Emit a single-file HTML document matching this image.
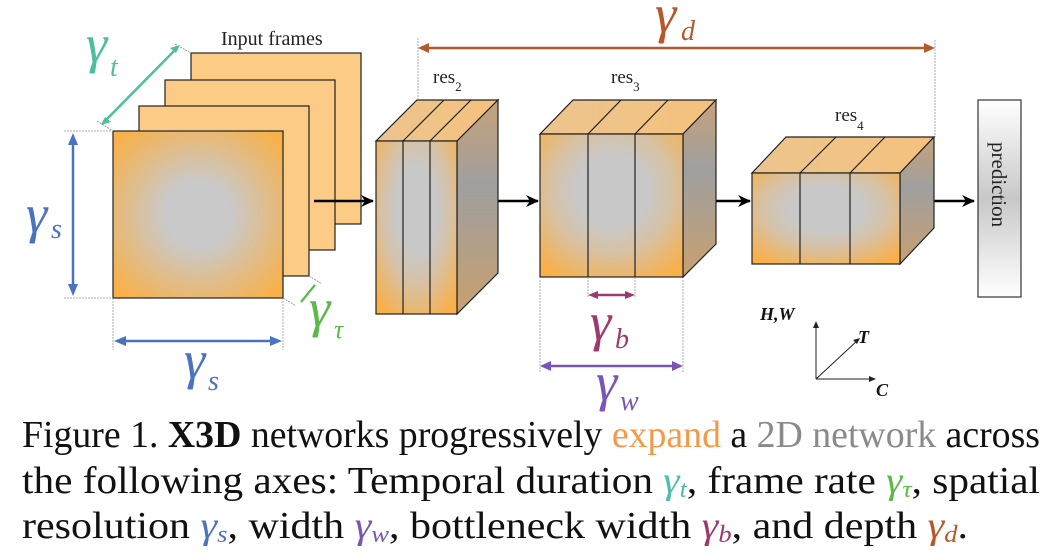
<!DOCTYPE html>
<html><head><meta charset="utf-8"><style>
html,body{margin:0;padding:0;background:#fff;width:1063px;height:560px;overflow:hidden}
svg{display:block}
text{font-family:"Liberation Serif",serif}
</style></head><body>
<svg width="1063" height="560" viewBox="0 0 1063 560" xmlns="http://www.w3.org/2000/svg">
<defs>
<radialGradient id="rg" cx="50%" cy="50%" r="65%">
<stop offset="0.3" stop-color="#c9c9c9"/><stop offset="1" stop-color="#f8b048"/></radialGradient>
<radialGradient id="fv" cx="50%" cy="40%" r="70%" fx="50%" fy="40%">
<stop offset="0.35" stop-color="#c8c8c8"/><stop offset="0.6" stop-color="#d6c2a6"/><stop offset="1" stop-color="#f8b04a"/></radialGradient>
<linearGradient id="sv" x1="0" y1="0" x2="0" y2="1">
<stop offset="0" stop-color="#c6a27a"/><stop offset="0.4" stop-color="#9f9f9f"/><stop offset="1" stop-color="#c8a070"/></linearGradient>
<linearGradient id="tp" x1="0" y1="0" x2="1" y2="0">
<stop offset="0" stop-color="#ecc48f"/><stop offset="1" stop-color="#f5c27c"/></linearGradient>
<linearGradient id="pr" x1="0" y1="0" x2="0" y2="1">
<stop offset="0" stop-color="#fff"/><stop offset="0.5" stop-color="#c8c8c8"/><stop offset="1" stop-color="#fff"/></linearGradient>
<marker id="ab" markerWidth="14" markerHeight="14" refX="12" refY="7" orient="auto" markerUnits="userSpaceOnUse"><path d="M0,1 L13,7 L0,13 L4,7z" fill="#000"/></marker>
</defs>
<g stroke="#222" stroke-width="1.2" fill="#fccb85">
<rect x="191" y="53" width="170" height="171"/>
<rect x="165" y="80" width="170" height="170"/>
<rect x="139" y="106" width="170" height="170"/>
<rect x="113" y="131" width="170" height="167" fill="url(#rg)"/>
</g>
<text x="221" y="45" font-size="20" fill="#222">Input frames</text>
<g stroke="#888" stroke-width="0.8" stroke-dasharray="2,1"><line x1="97" y1="121" x2="113" y2="131"/><line x1="175" y1="44" x2="191" y2="53"/></g>
<line x1="104" y1="122" x2="177" y2="48" stroke="#4dbf9e" stroke-width="2.5"/>
<path d="M101,125 l10,-3 l-6,-5z M180,45 l-10,3 l6,5z" fill="#4dbf9e"/>
<text x="86" y="62" font-size="54" font-style="italic" fill="#4dbf9e">γ</text><text x="110" y="76" font-size="28" font-style="italic" fill="#4dbf9e">t</text>
<g stroke="#999" stroke-width="0.8" stroke-dasharray="2,1"><line x1="64" y1="131" x2="113" y2="131"/><line x1="64" y1="298" x2="113" y2="298"/><line x1="113" y1="298" x2="113" y2="350"/><line x1="283" y1="298" x2="283" y2="350"/></g>
<line x1="73" y1="138" x2="73" y2="291" stroke="#4a72c0" stroke-width="2.5"/>
<path d="M73,133 l-5,12 h10z M73,296 l-5,-12 h10z" fill="#4a72c0"/>
<text x="26" y="232" font-size="54" font-style="italic" fill="#4a72c0">γ</text><text x="51" y="238" font-size="28" font-style="italic" fill="#4a72c0">s</text>
<line x1="119" y1="341" x2="277" y2="341" stroke="#4a72c0" stroke-width="2.5"/>
<path d="M114,341 l12,-5 v10z M282,341 l-12,-5 v10z" fill="#4a72c0"/>
<text x="184" y="378" font-size="54" font-style="italic" fill="#4a72c0">γ</text><text x="208" y="390" font-size="28" font-style="italic" fill="#4a72c0">s</text>
<g stroke="#888" stroke-width="0.8" stroke-dasharray="2,1"><line x1="309" y1="276" x2="322" y2="284"/><line x1="283" y1="298" x2="296" y2="306"/></g>
<line x1="301" y1="302" x2="315" y2="285" stroke="#5cb84a" stroke-width="2.2"/>
<text x="309" y="326" font-size="54" font-style="italic" fill="#5cb84a">γ</text><text x="334" y="338" font-size="26" font-style="italic" fill="#5cb84a">τ</text>
<g stroke="#000" stroke-width="2.5" marker-end="url(#ab)"><line x1="314" y1="201" x2="373" y2="201"/><line x1="498" y1="201" x2="538" y2="201"/><line x1="716" y1="201" x2="750" y2="201"/><line x1="934" y1="201" x2="974" y2="201"/></g>
<g stroke="#222" stroke-width="1.2">
<path d="M376,141 L417,100 L498,100 L457,141z" fill="url(#tp)"/>
<path d="M457,141 L498,100 L498,273 L457,314z" fill="url(#sv)"/>
<rect x="376" y="141" width="81" height="173" fill="url(#fv)"/>
<line x1="403" y1="141" x2="403" y2="314"/><line x1="430" y1="141" x2="430" y2="314"/>
<line x1="403" y1="141" x2="444" y2="100"/><line x1="430" y1="141" x2="471" y2="100"/>
</g>
<text x="433" y="83" font-size="19" fill="#222">res<tspan font-size="13" dy="8">2</tspan></text>
<g stroke="#222" stroke-width="1.2">
<path d="M540,134 L573,100 L716,100 L683,134z" fill="url(#tp)"/>
<path d="M683,134 L716,100 L716,244 L683,277z" fill="url(#sv)"/>
<rect x="540" y="134" width="143" height="143" fill="url(#fv)"/>
<line x1="588" y1="134" x2="588" y2="277"/><line x1="635" y1="134" x2="635" y2="277"/>
<line x1="588" y1="134" x2="621" y2="100"/><line x1="635" y1="134" x2="668" y2="100"/>
</g>
<text x="611" y="83" font-size="19" fill="#222">res<tspan font-size="13" dy="8">3</tspan></text>
<g stroke="#999" stroke-width="0.8" stroke-dasharray="2,1"><line x1="540" y1="280" x2="540" y2="373"/><line x1="683" y1="280" x2="683" y2="373"/><line x1="588" y1="277" x2="588" y2="298"/><line x1="635" y1="277" x2="635" y2="298"/></g>
<line x1="593" y1="295" x2="630" y2="295" stroke="#9c3a6e" stroke-width="2.5"/>
<path d="M588,295 l10,-4 v8z M635,295 l-10,-4 v8z" fill="#9c3a6e"/>
<text x="590" y="340" font-size="54" font-style="italic" fill="#9c3a6e">γ</text><text x="615" y="348" font-size="28" font-style="italic" fill="#9c3a6e">b</text>
<line x1="546" y1="366" x2="677" y2="366" stroke="#7a55b5" stroke-width="2.5"/>
<path d="M540,366 l11,-5 v10z M683,366 l-11,-5 v10z" fill="#7a55b5"/>
<text x="596" y="400" font-size="54" font-style="italic" fill="#7a55b5">γ</text><text x="620" y="410" font-size="28" font-style="italic" fill="#7a55b5">w</text>
<g stroke="#222" stroke-width="1.2">
<path d="M752,173 L786,137 L934,137 L900,173z" fill="url(#tp)"/>
<path d="M900,173 L934,137 L934,228 L900,264z" fill="url(#sv)"/>
<rect x="752" y="173" width="148" height="91" fill="url(#fv)"/>
<line x1="800" y1="173" x2="800" y2="264"/><line x1="850" y1="173" x2="850" y2="264"/>
<line x1="800" y1="173" x2="836" y2="137"/><line x1="850" y1="173" x2="885" y2="137"/>
</g>
<text x="835" y="121" font-size="19" fill="#222">res<tspan font-size="13" dy="9">4</tspan></text>
<g stroke="#999" stroke-width="0.8" stroke-dasharray="2,1"><line x1="418" y1="38" x2="418" y2="100"/><line x1="935" y1="40" x2="935" y2="137"/></g>
<line x1="424" y1="48" x2="929" y2="48" stroke="#b5582a" stroke-width="2.5"/>
<path d="M418,48 l11,-5 v10z M935,48 l-11,-5 v10z" fill="#b5582a"/>
<text x="655" y="32" font-size="54" font-style="italic" fill="#b5582a">γ</text><text x="681" y="40" font-size="28" font-style="italic" fill="#b5582a">d</text>
<rect x="978" y="100" width="43" height="197" fill="url(#pr)" stroke="#333" stroke-width="1.2"/>
<text transform="translate(992,142) rotate(90)" font-size="21" fill="#222">prediction</text>
<g stroke="#222" stroke-width="1"><line x1="816" y1="379" x2="816" y2="324"/><line x1="816" y1="379" x2="858" y2="340"/><line x1="816" y1="379" x2="873" y2="379"/></g>
<path d="M816,321 l-3,7 h6z M860,338 l-7,2 l4,4z M876,379 l-7,-3 v6z" fill="#222"/>
<text x="760" y="320" font-size="18" font-style="italic" font-weight="bold" fill="#111">H,W</text>
<text x="858" y="343" font-size="18" font-style="italic" font-weight="bold" fill="#111">T</text>
<text x="876" y="396" font-size="18" font-style="italic" font-weight="bold" fill="#111">C</text>
<g font-size="38" fill="#111">
<text x="22" y="447" textLength="1018" lengthAdjust="spacingAndGlyphs">Figure 1. <tspan font-weight="bold">X3D</tspan> networks progressively <tspan fill="#f39a4a">expand</tspan> a <tspan fill="#8a8a8a">2D network</tspan> across</text>
<text x="22" y="493" textLength="1018" lengthAdjust="spacingAndGlyphs">the following axes: Temporal duration <tspan fill="#4dbfa8" font-style="italic">γ<tspan font-size="24" dy="4">t</tspan></tspan><tspan dy="-4">, frame rate </tspan><tspan fill="#5cb84a" font-style="italic">γ<tspan font-size="24" dy="4">τ</tspan></tspan><tspan dy="-4">, spatial</tspan></text>
<text x="22" y="538" textLength="946" lengthAdjust="spacingAndGlyphs">resolution <tspan fill="#4a72c0" font-style="italic">γ<tspan font-size="24" dy="4">s</tspan></tspan><tspan dy="-4">, width </tspan><tspan fill="#7a55b5" font-style="italic">γ<tspan font-size="24" dy="4">w</tspan></tspan><tspan dy="-4">, bottleneck width </tspan><tspan fill="#9c3a6e" font-style="italic">γ<tspan font-size="24" dy="4">b</tspan></tspan><tspan dy="-4">, and depth </tspan><tspan fill="#b5582a" font-style="italic">γ<tspan font-size="24" dy="4">d</tspan></tspan><tspan dy="-4">.</tspan></text>
</g>
</svg>
</body></html>
